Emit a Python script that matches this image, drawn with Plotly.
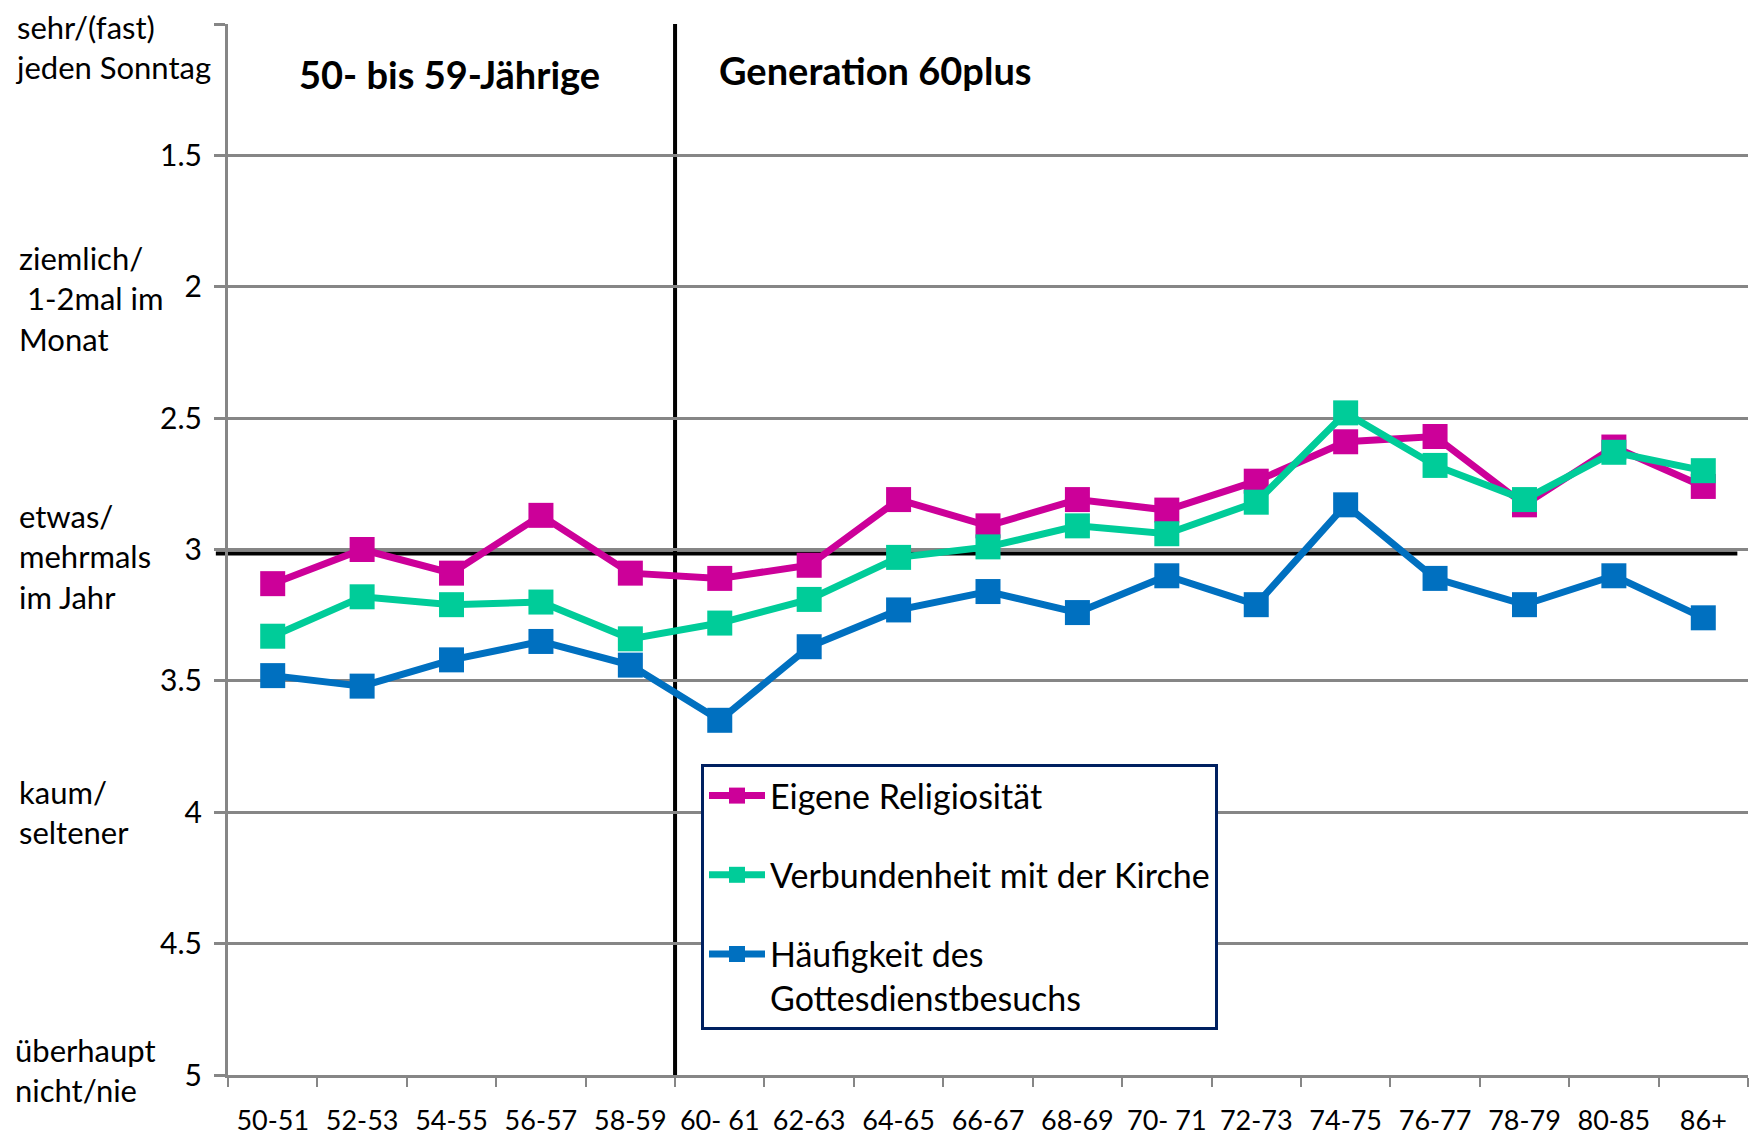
import plotly.graph_objects as go

categories = ["50-51", "52-53", "54-55", "56-57", "58-59", "60- 61", "62-63", "64-65",
              "66-67", "68-69", "70- 71", "72-73", "74-75", "76-77", "78-79", "80-85", "86+"]

religiositaet = [3.13, 3.00, 3.09, 2.87, 3.09, 3.11, 3.06, 2.81, 2.91, 2.81, 2.85, 2.74,
                 2.59, 2.57, 2.83, 2.61, 2.76]
verbundenheit = [3.33, 3.18, 3.21, 3.20, 3.34, 3.28, 3.19, 3.03, 2.99, 2.91, 2.94, 2.82,
                 2.48, 2.68, 2.81, 2.63, 2.70]
gottesdienst = [3.48, 3.52, 3.42, 3.35, 3.44, 3.65, 3.37, 3.23, 3.16, 3.24, 3.10, 3.21,
                2.83, 3.11, 3.21, 3.10, 3.26]

series_names = ["Eigene Religiosität", "Verbundenheit mit der Kirche",
                "Häufigkeit des<br>Gottesdienstbesuchs"]
series_colors = ["#CC0099", "#00CC99", "#0070C0"]

y_tickvals = [1, 1.5, 2, 2.5, 3, 3.5, 4, 4.5, 5]
y_ticktext = ["1", "1.5", "2", "2.5", "3", "3.5", "4", "4.5", "5"]
scale_labels = ["sehr/(fast)<br>jeden Sonntag",
                "ziemlich/<br> 1-2mal im<br>Monat",
                "etwas/<br>mehrmals<br>im Jahr",
                "kaum/<br>seltener",
                "überhaupt<br>nicht/nie"]
mean_line = 3.015
group_labels = ["50- bis 59-Jährige", "Generation 60plus"]

OFF = 8  # browser body margin
W, H = 1758 - OFF, 1136 - OFF
L, T = 228 - OFF, 24 - OFF
PR, PB = 1748 - OFF, 1075 - OFF
R, B = W - PR, H - PB
PW, PH = PR - L, PB - T


def px_x(p):
    return (p - OFF - L) / PW


def px_y(p):
    return (PB - (p - OFF)) / PH


FONT = "Lato"
fig = go.Figure()
for name, vals, col in zip(series_names, [religiositaet, verbundenheit, gottesdienst], series_colors):
    fig.add_trace(go.Scatter(
        x=categories, y=vals, name=name, mode="lines+markers",
        line=dict(color=col, width=7),
        marker=dict(symbol="square", size=25, color=col),
        legendgroup=name,
    ))

fig.add_shape(type="line", xref="x", yref="y", x0=4.5, x1=4.5, y0=1, y1=5,
              line=dict(color="black", width=4), layer="below")
fig.add_shape(type="line", xref="paper", yref="y", x0=-0.008, x1=0.993, y0=mean_line, y1=mean_line,
              line=dict(color="black", width=4), layer="below")

annotations = []
label_pos = [(13, 47), (17, 298), (17, 557), (17, 812), (13, 1070)]
for txt, (lx, ly) in zip(scale_labels, label_pos):
    annotations.append(dict(text=txt, xref="paper", yref="paper", x=px_x(lx), y=px_y(ly),
                            xanchor="left", yanchor="middle", align="left", showarrow=False,
                            font=dict(family=FONT, size=31, color="black")))
annotations.append(dict(text="<b>" + group_labels[0] + "</b>", xref="paper", yref="paper",
                        x=px_x(297), y=px_y(74), xanchor="left", yanchor="middle",
                        showarrow=False, font=dict(family=FONT, size=38, color="black")))
annotations.append(dict(text="<b>" + group_labels[1] + "</b>", xref="paper", yref="paper",
                        x=px_x(717), y=px_y(70), xanchor="left", yanchor="middle",
                        showarrow=False, font=dict(family=FONT, size=38, color="black")))

fig.update_layout(
    width=W, height=H,
    margin=dict(l=L, r=R, t=T, b=B),
    plot_bgcolor="white", paper_bgcolor="white",
    font=dict(family=FONT, size=28, color="black"),
    annotations=annotations,
    legend=dict(x=px_x(701), y=px_y(764), xanchor="left", yanchor="top",
                bgcolor="white", bordercolor="#002060", borderwidth=3,
                font=dict(family=FONT, size=34, color="black"),
                tracegroupgap=32, valign="top", itemwidth=56),
    showlegend=True,
)
fig.update_xaxes(
    type="category", tickson="boundaries", ticks="outside", ticklen=9, tickwidth=2,
    tickcolor="#868686", showline=True, linecolor="#868686", linewidth=3,
    showgrid=False, tickfont=dict(family=FONT, size=27), ticklabelstandoff=20,
    tickangle=0, range=[-0.5, 16.5], automargin=False,
)
fig.update_yaxes(
    range=[5, 1], tickvals=y_tickvals, ticktext=y_ticktext, ticks="outside", ticklen=11,
    tickwidth=3, tickcolor="#868686", showline=True, linecolor="#868686", linewidth=3,
    showgrid=True, gridcolor="#868686", gridwidth=3, zeroline=False,
    tickfont=dict(family=FONT, size=30), ticklabelstandoff=6, automargin=False,
)

fig.write_html("out.html")
